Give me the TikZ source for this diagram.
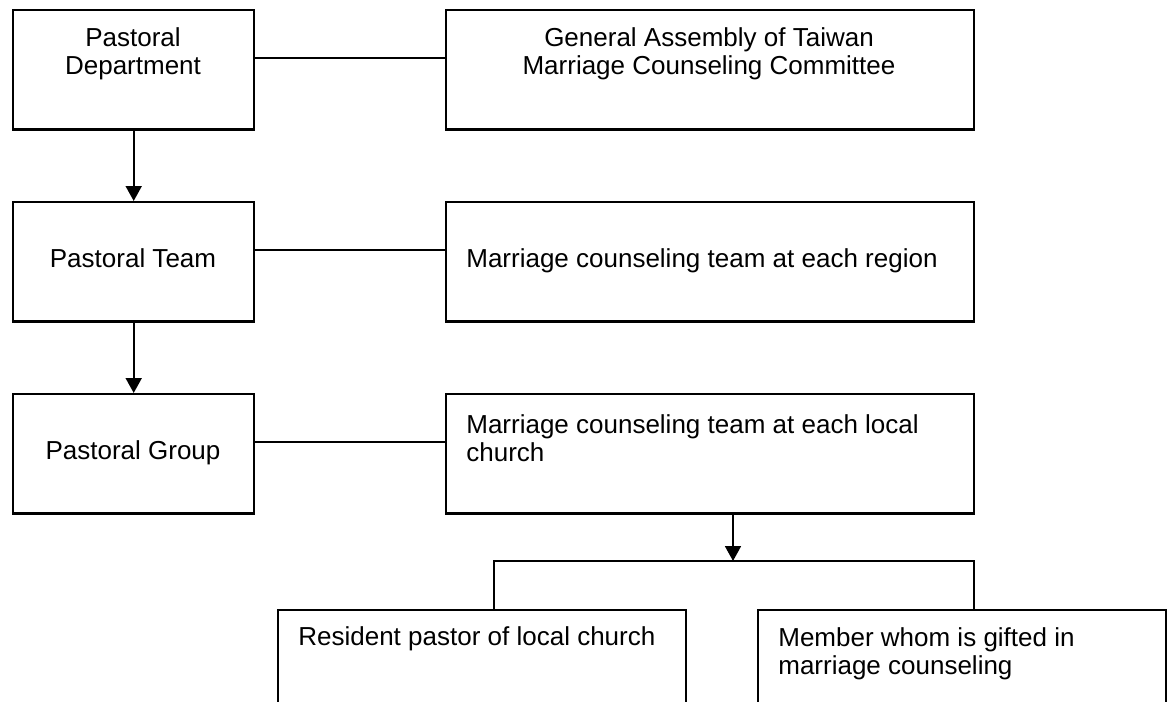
\documentclass[tikz,border=0pt]{standalone}
\usepackage{fontspec}
\setmainfont{Liberation Sans}
\usetikzlibrary{arrows.meta,positioning,calc}

\begin{document}
\begin{tikzpicture}[
    x=0.02cm, y=-0.02cm,
    >={Triangle[length=8.5pt,width=9pt]},
    font=\fontsize{14.8pt}{16pt}\selectfont,
    unit/.style={draw, line width=1.4pt, anchor=north west, inner sep=0pt,
                 minimum height=2.39cm},
    narrow/.style={unit, minimum width=4.82cm},
    wide/.style={unit, minimum width=10.56cm},
    member/.style={unit, minimum width=8.16cm, minimum height=3cm},
    txt/.style={inner sep=0pt},
    link/.style={line width=1.3pt},
  ]

\useasboundingbox (0,0) rectangle (1172,702);
\clip (0,0) rectangle (1172,702);

% pastoral line (left column)
\node[narrow] (pd) at (12,9) {};
\node[narrow] (pt) at (12,201) {};
\node[narrow] (pg) at (12,393) {};
\node[txt, anchor=north, align=center] (pdtext) at (133,27)
  {Pastoral\\Department};
\node[txt, anchor=base] (pttext) at (133,268) {Pastoral Team};
\node[txt, anchor=base] (pgtext) at (133,459) {Pastoral Group};

% counseling line (right column)
\node[wide] (ga) at (445,9) {};
\node[wide] (region) at (445,201) {};
\node[wide] (local) at (445,393) {};
\node[txt, anchor=north, align=center] (gatext) at (709,27)
  {General Assembly of Taiwan\\Marriage Counseling Committee};
\node[txt, anchor=base west] (regiontext) at (466,268)
  {Marriage counseling team at each region};
\node[txt, anchor=north west, align=left] (localtext) at (466,414)
  {Marriage counseling team at each local\\church};

% local church members
\node[member] (pastor) at (277,609) {};
\node[member] (gifted) at (757,609) {};
\node[txt, anchor=base west] (pastortext) at (298,645)
  {Resident pastor of local church};
\node[txt, anchor=north west, align=left] (giftedtext) at (778,627)
  {Member whom is gifted in\\marriage counseling};

% links between the columns
\draw[link] ($(pd.east)+(0,-12)$) -- ($(ga.west)+(0,-12)$);
\draw[link] ($(pt.east)+(0,-12)$) -- ($(region.west)+(0,-12)$);
\draw[link] ($(pg.east)+(0,-12)$) -- ($(local.west)+(0,-12)$);

% downward arrows
\draw[->, link] (pd) -- (pt);
\draw[->, link] (pt) -- (pg);
\coordinate (split) at (733,561);
\draw[->, link] (local.south -| split) -- (split);
\draw[link] ($(pastor.north)+(12,0)$) |- (split) -| ($(gifted.north)+(12,0)$);

\end{tikzpicture}
\end{document}
